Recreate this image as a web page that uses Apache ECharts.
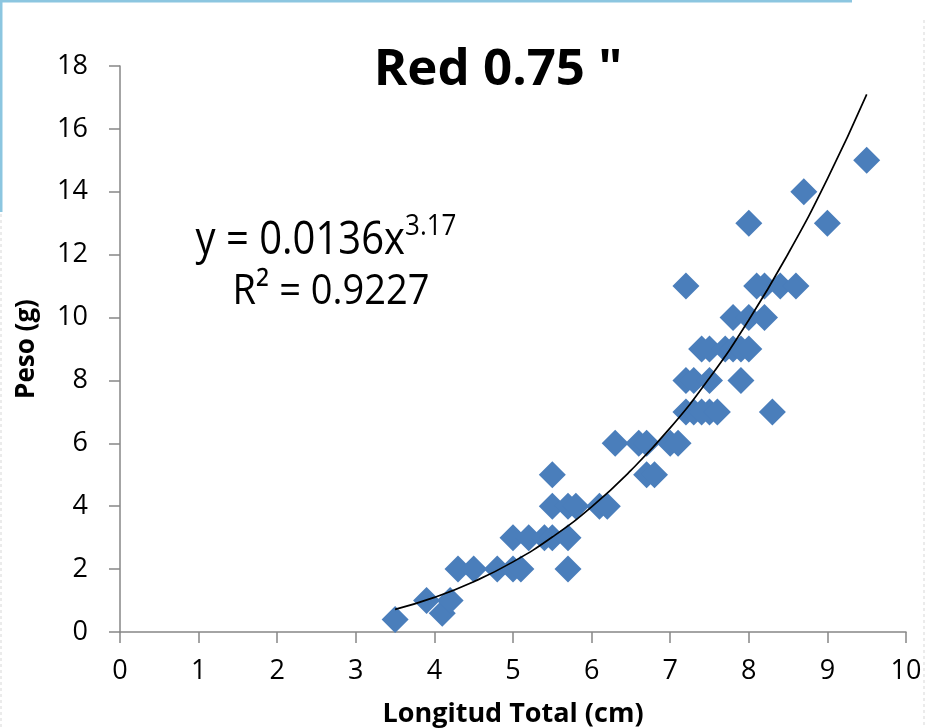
<!DOCTYPE html>
<html>
<head>
<meta charset="utf-8">
<script src="https://cdn.jsdelivr.net/npm/echarts@6/dist/echarts.min.js"></script>
<style>
html,body{margin:0;padding:0;background:#fff;}
#chart{width:926px;height:728px;}
</style>
</head>
<body>
<div id="chart"></div>
<script>
// Observed data: Longitud Total (cm) vs Peso (g)
var lengthCm = [3.5, 3.9, 4.1, 4.2, 4.3, 4.5, 4.8, 5.0, 5.1, 5.0, 5.2, 5.4, 5.5, 5.7, 5.7,
  5.5, 5.5, 5.7, 5.8, 6.1, 6.2, 6.3, 6.6, 6.7, 7.0, 7.1, 6.7, 6.8,
  7.2, 7.3, 7.4, 7.5, 7.6, 8.3, 7.2, 7.3, 7.5, 7.9,
  7.4, 7.5, 7.7, 7.8, 7.9, 8.0, 7.8, 8.0, 8.2,
  7.2, 8.1, 8.2, 8.4, 8.6, 8.0, 9.0, 8.7, 9.5];
var weightG = [0.4, 1, 0.6, 1, 2, 2, 2, 2, 2, 3, 3, 3, 3, 3, 2,
  4, 5, 4, 4, 4, 4, 6, 6, 6, 6, 6, 5, 5,
  7, 7, 7, 7, 7, 7, 8, 8, 8, 8,
  9, 9, 9, 9, 9, 9, 10, 10, 10,
  11, 11, 11, 11, 11, 13, 13, 14, 15];
// Power trendline
var trendX = [3.5, 4.0, 4.5, 5.0, 5.5, 6.0, 6.5, 7.0, 7.5, 8.0, 8.5, 9.0, 9.5];
var trendY = [0.72, 1.10, 1.60, 2.23, 3.02, 3.98, 5.14, 6.49, 8.08, 9.92, 12.03, 14.41, 17.10];
var xTicks = {min: 0, max: 10, interval: 1};
var yTicks = {min: 0, max: 18, interval: 2};
var titleText = 'Red 0.75 "';
var xName = 'Longitud Total (cm)';
var yName = 'Peso (g)';
var eqMain = 'y = 0.0136x';
var eqExp = '3.17';
var eqR2 = 'R² = 0.9227';

var FONT = '"Open Sans", "Noto Sans", sans-serif';
var scatterData = lengthCm.map(function (x, i) { return [x, weightG[i]]; });
var trendData = trendX.map(function (x, i) { return [x, trendY[i]]; });

var chart = echarts.init(document.getElementById('chart'), null, {renderer: 'canvas'});
chart.setOption({
  backgroundColor: '#ffffff',
  animation: false,
  title: {
    text: titleText,
    left: 493, top: 40, textAlign: 'center',
    textStyle: {fontFamily: FONT, fontWeight: 'bold', fontSize: 51, color: '#000'}
  },
  grid: {left: 120, right: 20, top: 66, bottom: 96, containLabel: false, outerBoundsMode: 'none'},
  xAxis: {
    type: 'value', min: xTicks.min, max: xTicks.max, interval: xTicks.interval,
    name: xName, nameLocation: 'middle', nameGap: 69,
    nameTextStyle: {fontFamily: FONT, fontWeight: 'bold', fontSize: 27, color: '#000'},
    axisLine: {show: true, onZero: false, lineStyle: {color: '#868686', width: 1.5}},
    axisTick: {show: true, inside: false, length: 11, lineStyle: {color: '#868686', width: 1.5}},
    axisLabel: {margin: 26, fontFamily: FONT, fontSize: 27, color: '#000'},
    splitLine: {show: false}
  },
  yAxis: {
    type: 'value', min: yTicks.min, max: yTicks.max, interval: yTicks.interval,
    name: yName, nameLocation: 'middle', nameGap: 80, nameRotate: 90,
    nameTextStyle: {fontFamily: FONT, fontWeight: 'bold', fontSize: 26, color: '#000'},
    axisLine: {show: true, onZero: false, lineStyle: {color: '#868686', width: 1.5}},
    axisTick: {show: true, inside: false, length: 11, lineStyle: {color: '#868686', width: 1.5}},
    axisLabel: {margin: 32, fontFamily: FONT, fontSize: 27, color: '#000'},
    splitLine: {show: false}
  },
  series: [
    {
      type: 'scatter', data: scatterData, symbol: 'diamond', symbolSize: 27,
      itemStyle: {color: '#4a7ebb', opacity: 1}, z: 2
    },
    {
      type: 'line', data: trendData, smooth: true, showSymbol: false, symbol: 'none',
      lineStyle: {color: '#000', width: 1.7}, z: 3
    }
  ],
  graphic: [
    {type: 'line', shape: {x1: 0, y1: 1, x2: 852, y2: 1}, style: {stroke: '#8cc6e0', lineWidth: 3}},
    {type: 'line', shape: {x1: 1, y1: 0, x2: 1, y2: 212}, style: {stroke: '#8cc6e0', lineWidth: 3}},
    {type: 'line', shape: {x1: 1, y1: 214, x2: 1, y2: 728}, style: {stroke: '#d8d8d8', lineWidth: 1, lineDash: [3, 3]}},
    {type: 'line', shape: {x1: 924, y1: 20, x2: 924, y2: 728}, style: {stroke: '#d8d8d8', lineWidth: 1, lineDash: [3, 3]}},
    {
      type: 'text', x: 326, y: 241, scaleY: 1.12,
      style: {
        x: 0, y: 0, align: 'center', verticalAlign: 'middle',
        text: '{a|' + eqMain + '}{s|' + eqExp + '}',
        rich: {
          a: {fontFamily: FONT, fontSize: 40, fill: '#000', color: '#000'},
          s: {fontFamily: FONT, fontSize: 26, fill: '#000', color: '#000', padding: [0, 0, 26, 0]}
        }
      }
    },
    {
      type: 'text', x: 331, y: 292, scaleY: 1.12,
      style: {x: 0, y: 0, align: 'center', verticalAlign: 'middle', text: eqR2, font: '38px ' + FONT, fill: '#000'}
    }
  ]
});
</script>
</body>
</html>
